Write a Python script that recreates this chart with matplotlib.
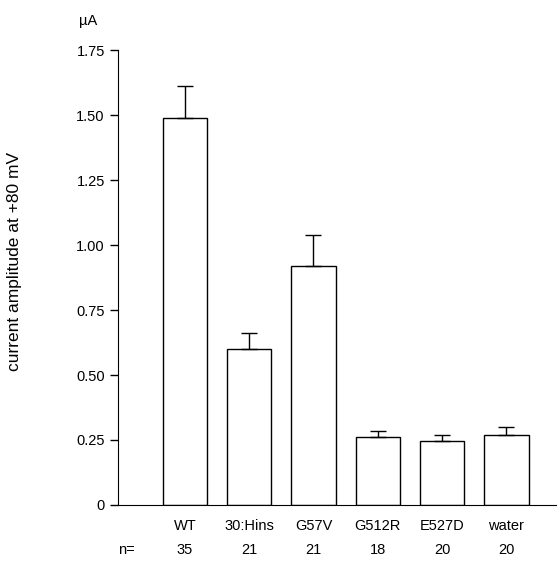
import matplotlib.pyplot as plt
import numpy as np

plt.rcParams['font.family'] = ['Liberation Sans', 'DejaVu Sans']

GROUPS = ["WT", "30:Hins", "G57V", "G512R", "E527D", "water"]
N_CELLS = ["35", "21", "21", "18", "20", "20"]
MEANS = [1.49, 0.60, 0.92, 0.26, 0.245, 0.27]
SEM = [0.12, 0.06, 0.12, 0.025, 0.025, 0.03]
YTICKS = [0, 0.25, 0.5, 0.75, 1.0, 1.25, 1.5, 1.75]
YTICK_LABELS = ["0", "0.25", "0.50", "0.75", "1.00", "1.25", "1.50", "1.75"]


def main() -> None:
    fig = plt.figure(figsize=(5.6, 5.69), dpi=100)
    ax = fig.add_axes([0.2107, 0.1125, 0.782, 0.7995])

    x = np.arange(len(GROUPS))
    ax.bar(x, MEANS, 0.69, color="white", edgecolor="black", linewidth=1.0,
           yerr=[np.zeros(len(SEM)), SEM], capsize=5.5,
           error_kw=dict(ecolor="black", elinewidth=1.0, capthick=1.0))

    ax.set_xlim(-1.04, len(GROUPS) - 1 + 0.77)
    ax.set_ylim(0, 1.75)
    ax.set_yticks(YTICKS)
    ax.set_yticklabels(YTICK_LABELS, fontsize=10.5)
    ax.set_xticks([])
    ax.tick_params(axis="y", direction="out", length=6, width=1)

    for s in ("top", "right"):
        ax.spines[s].set_visible(False)

    for xi, g, n in zip(x, GROUPS, N_CELLS):
        ax.text(xi, -0.08, g, ha="center", va="center", fontsize=10.5,
                clip_on=False)
        ax.text(xi, -0.175, n, ha="center", va="center", fontsize=10.5,
                clip_on=False)
    ax.text(-0.91, -0.175, "n=", ha="center", va="center", fontsize=10.5,
            clip_on=False)

    ax.text(-1.5, 1.86, "µA", ha="center", va="center", fontsize=10.5,
            clip_on=False)
    ax.set_ylabel("current amplitude at +80 mV", fontsize=12.5)
    ax.yaxis.set_label_coords(-0.219, 0.535)

    fig.savefig("out.png", dpi=100)


if __name__ == "__main__":
    main()
